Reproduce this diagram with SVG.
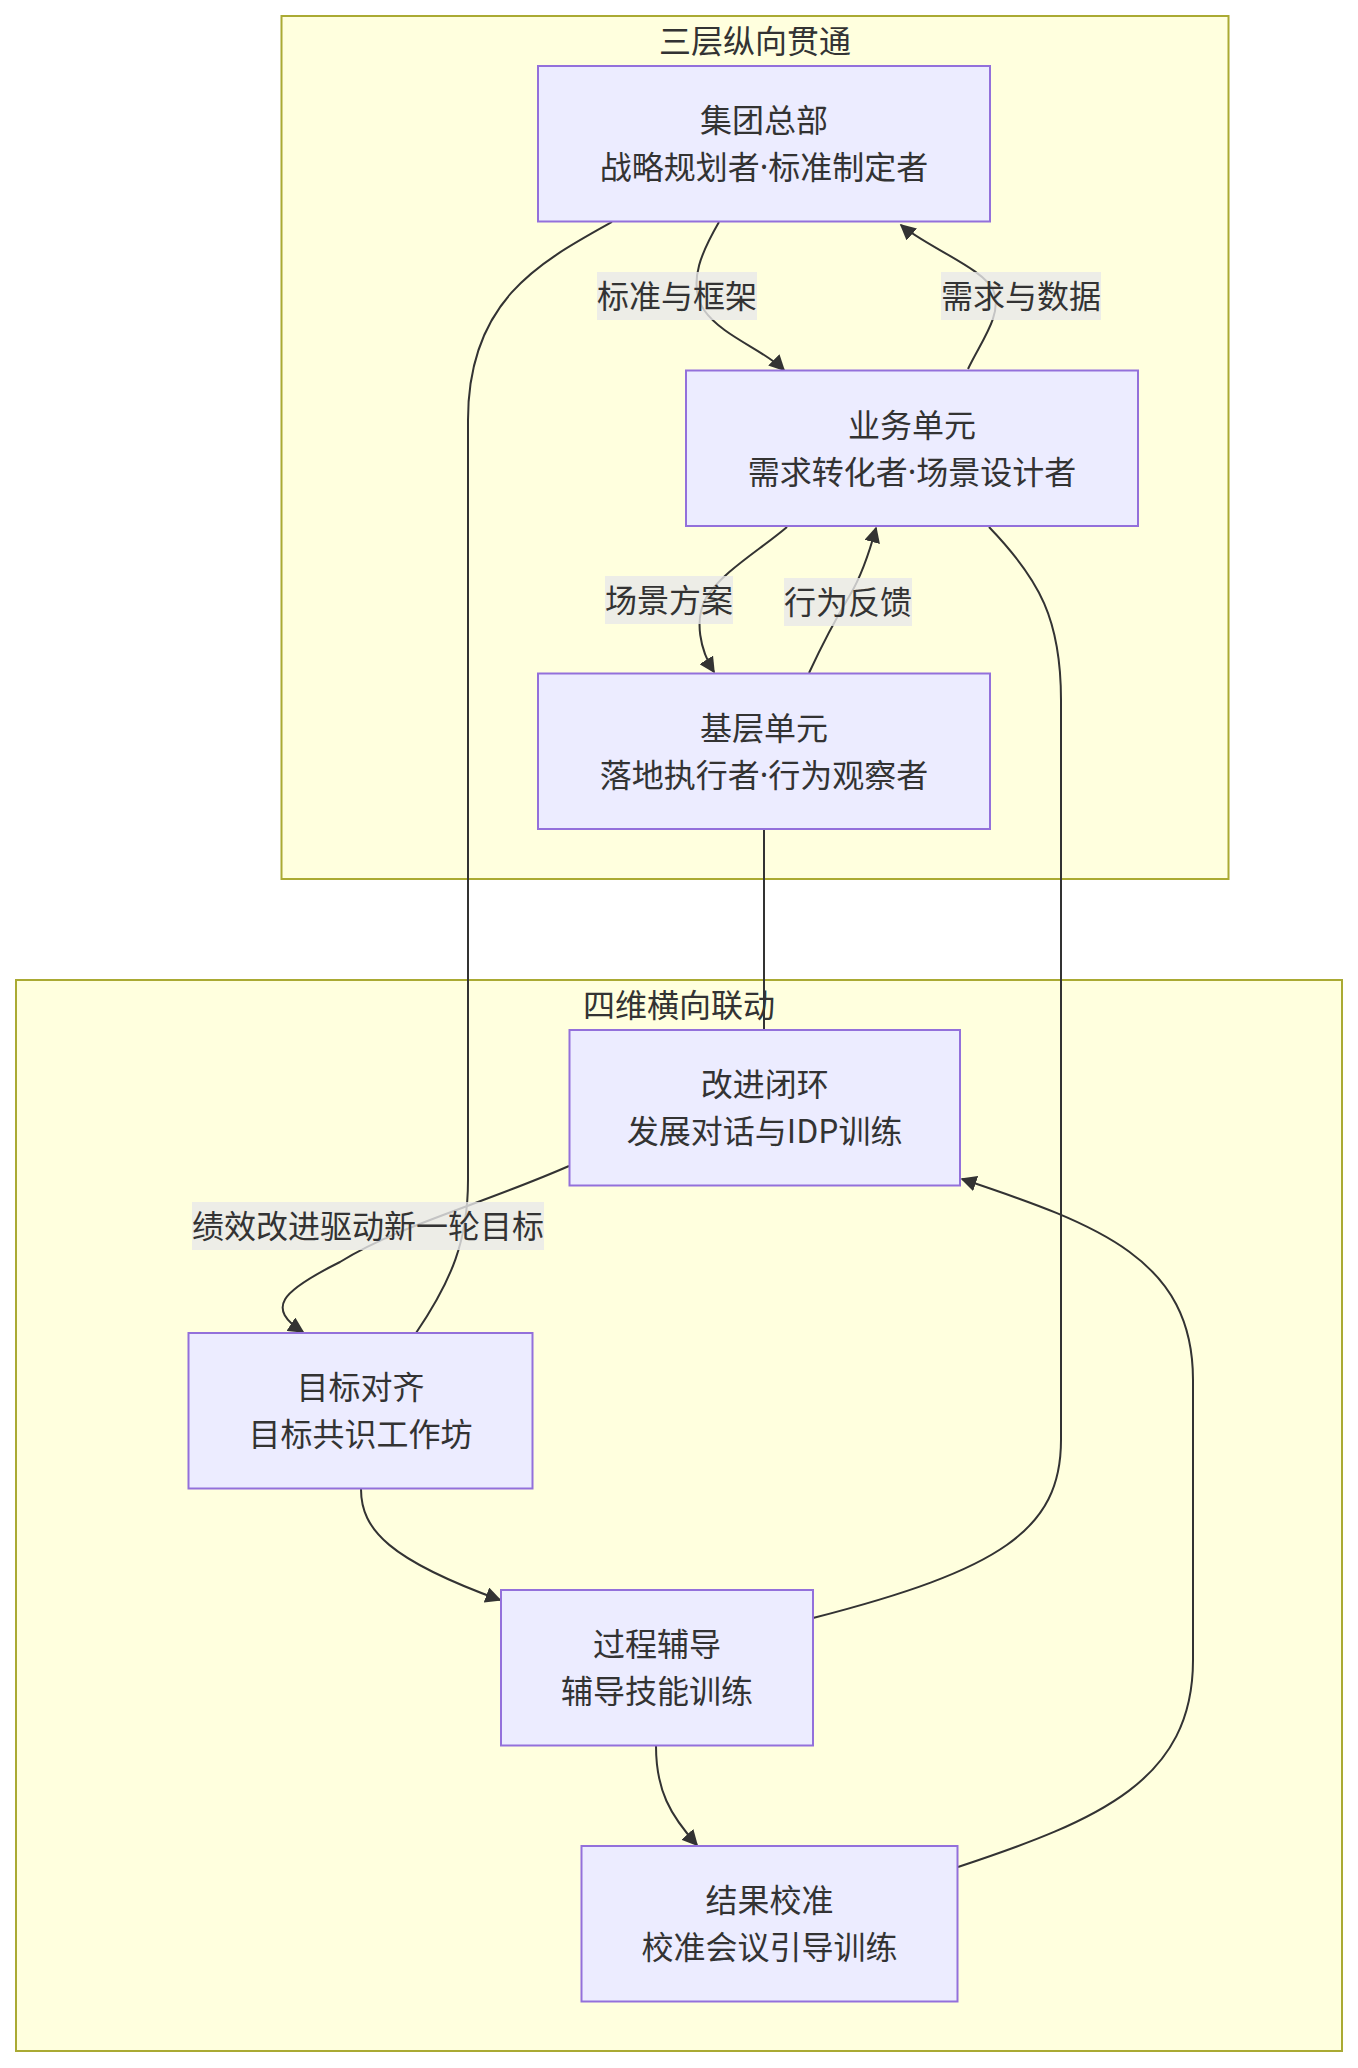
<svg xmlns="http://www.w3.org/2000/svg" width="1358" height="2068" viewBox="0 0 1358 2068">
<style>
  .cluster rect { fill: #FFFFDE; stroke: #AAAA33; stroke-width: 2; }
  .node rect { fill: #ECECFF; stroke: #9370DB; stroke-width: 2; }
  text { font-family: "Noto Sans CJK SC", "Noto Sans", sans-serif; font-size: 32px; fill: #333333; text-anchor: middle; dominant-baseline: central; }
  .dot { font-family: "Noto Sans", "DejaVu Sans", sans-serif; }
  .edge { fill: none; stroke: #333333; stroke-width: 2; }
  .lbl rect { fill: rgba(232,232,232,0.8); }
</style>
<defs>
  <marker id="arrow" viewBox="0 0 10 10" refX="9" refY="5" markerUnits="userSpaceOnUse" markerWidth="16" markerHeight="16" orient="auto">
    <path d="M0,0 L10,5 L0,10 z" fill="#333333"/>
  </marker>
</defs>
<rect width="1358" height="2068" fill="#ffffff"/>

<g id="cluster-vertical" class="cluster">
  <rect x="281.5" y="16" width="947" height="863"/>
  <text x="755" y="39">三层纵向贯通</text>
</g>
<g id="cluster-horizontal" class="cluster">
  <rect x="16" y="980" width="1326" height="1071"/>
  <text x="679" y="1003">四维横向联动</text>
</g>

<g id="connectors">
  <path class="edge" d="M719,222 C704,248 686,282 704,310 C722,336 764,350 784,370" marker-end="url(#arrow)"/>
  <path class="edge" d="M968,369 C982,340 1002,315 994,292 C987,270 925,246 901,225" marker-end="url(#arrow)"/>
  <path class="edge" d="M787,527 C760,550 722,572 706,598 C694,620 700,650 714,672" marker-end="url(#arrow)"/>
  <path class="edge" d="M809,673 C822,645 838,615 850,595 C862,575 870,550 876,528" marker-end="url(#arrow)"/>
  <path class="edge" d="M612,222 C540,262 468,300 468,420 L468,1180 C468,1240 452,1280 416,1333"/>
  <path class="edge" d="M764,829 L764,1030"/>
  <path class="edge" d="M989,527 C1040,580 1061,620 1061,700 L1061,1440 C1061,1530 1000,1570 813,1618"/>
  <path class="edge" d="M958,1867 C1100,1820 1193,1780 1193,1660 L1193,1380 C1193,1260 1100,1225 962,1179" marker-end="url(#arrow)"/>
  <path class="edge" d="M569,1166 C480,1205 400,1225 340,1262 C280,1292 266,1308 303,1332" marker-end="url(#arrow)"/>
  <path class="edge" d="M361,1489 C361,1530 390,1560 500,1600" marker-end="url(#arrow)"/>
  <path class="edge" d="M656,1746 C656,1790 670,1815 697,1845" marker-end="url(#arrow)"/>

  <g class="lbl"><rect x="597" y="272" width="160" height="48"/><text x="677" y="294">标准与框架</text></g>
  <g class="lbl"><rect x="941" y="272" width="160" height="48"/><text x="1021" y="294">需求与数据</text></g>
  <g class="lbl"><rect x="605" y="576" width="128" height="48"/><text x="669" y="598">场景方案</text></g>
  <g class="lbl"><rect x="784" y="578" width="128" height="48"/><text x="848" y="600">行为反馈</text></g>
  <g class="lbl"><rect x="192" y="1202" width="352" height="48"/><text x="368" y="1224">绩效改进驱动新一轮目标</text></g>
</g>

<g id="node-hq" class="node">
  <rect x="538" y="66" width="452" height="155.5"/>
  <text x="764" y="118">集团总部</text>
  <text x="764" y="165">战略规划者<tspan class="dot">·</tspan>标准制定者</text>
</g>
<g id="node-bu" class="node">
  <rect x="686" y="370.5" width="452" height="155.5"/>
  <text x="912" y="422.5">业务单元</text>
  <text x="912" y="469.5">需求转化者<tspan class="dot">·</tspan>场景设计者</text>
</g>
<g id="node-base" class="node">
  <rect x="538" y="673.5" width="452" height="155.5"/>
  <text x="764" y="726">基层单元</text>
  <text x="764" y="773">落地执行者<tspan class="dot">·</tspan>行为观察者</text>
</g>
<g id="node-improve" class="node">
  <rect x="569.5" y="1030" width="390.5" height="155.5"/>
  <text x="764.7" y="1082">改进闭环</text>
  <text x="764.7" y="1129">发展对话与IDP训练</text>
</g>
<g id="node-goal" class="node">
  <rect x="188.5" y="1333" width="344" height="155.5"/>
  <text x="360.5" y="1385">目标对齐</text>
  <text x="360.5" y="1432">目标共识工作坊</text>
</g>
<g id="node-coach" class="node">
  <rect x="501" y="1590" width="312" height="155.5"/>
  <text x="657" y="1642">过程辅导</text>
  <text x="657" y="1689">辅导技能训练</text>
</g>
<g id="node-calib" class="node">
  <rect x="581.5" y="1846" width="376" height="155.5"/>
  <text x="769.5" y="1898">结果校准</text>
  <text x="769.5" y="1945">校准会议引导训练</text>
</g>
</svg>
